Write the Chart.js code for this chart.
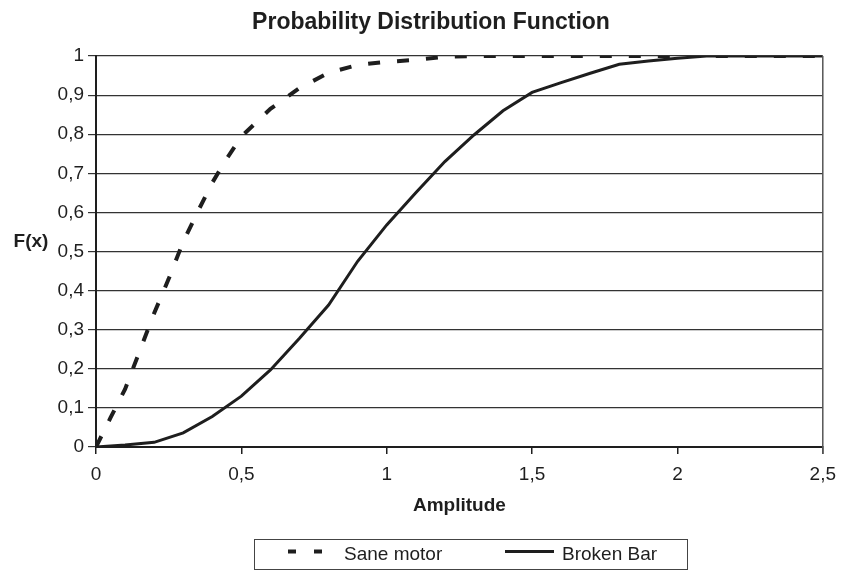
<!DOCTYPE html>
<html lang="en">
<head>
<meta charset="utf-8"/>
<title>Probability Distribution Function</title>
<script src="https://cdn.jsdelivr.net/npm/chart.js"></script>
<style>
  html, body { margin: 0; padding: 0; background: #fff; }
</style>
</head>
<body>
<canvas id="pdfChart" width="845" height="570"></canvas>
<script>
  // cumulative distribution, one pair of arrays per motor
  const saneAmp = [0, 0.05, 0.1, 0.15, 0.2, 0.25, 0.3, 0.35, 0.4, 0.45, 0.5, 0.6, 0.7, 0.8, 0.9, 1.0,
                   1.1, 1.2, 1.3, 1.4, 1.5, 1.6, 1.7, 1.8, 1.9, 2.0, 2.1, 2.2, 2.3, 2.4, 2.5];
  const saneF = [0, 0.075, 0.148, 0.245, 0.342, 0.43, 0.525, 0.602, 0.676, 0.738, 0.794, 0.865, 0.918, 0.957, 0.977, 0.985,
                 0.99, 0.998, 1, 1, 1, 1, 1, 1, 1, 1, 1, 1, 1, 1, 1];

  const brokenAmp = [0, 0.1, 0.2, 0.3, 0.4, 0.5, 0.6, 0.7, 0.8, 0.9, 1.0, 1.1, 1.2, 1.3, 1.4, 1.5,
                     1.6, 1.7, 1.8, 1.9, 2.0, 2.1, 2.2, 2.3, 2.4, 2.5];
  const brokenF = [0, 0.005, 0.012, 0.036, 0.078, 0.13, 0.197, 0.278, 0.363, 0.475, 0.568, 0.65, 0.73, 0.798, 0.86, 0.907,
                   0.932, 0.956, 0.979, 0.987, 0.994, 1, 1, 1, 1, 1];

  const xTicks = [0, 0.5, 1, 1.5, 2, 2.5];
  const yTicks = [0, 0.1, 0.2, 0.3, 0.4, 0.5, 0.6, 0.7, 0.8, 0.9, 1];

  const chartTitle = 'Probability Distribution Function';
  const xName = 'Amplitude';
  const yName = 'F(x)';

  const FONT = '"Liberation Sans", Arial, sans-serif';
  const INK = '#1e1e1e';

  const comma = v => String(+v.toFixed(2)).replace('.', ',');
  const pairs = (xs, ys) => xs.map((x, i) => ({ x: x, y: ys[i] }));

  // title, y axis name, right frame and the boxed legend
  const decor = {
    id: 'decor',
    afterDraw(chart) {
      const ctx = chart.ctx;
      const a = chart.chartArea;
      ctx.save();

      ctx.strokeStyle = '#555';
      ctx.lineWidth = 1.5;
      ctx.beginPath();
      ctx.moveTo(a.right, a.top);
      ctx.lineTo(a.right, a.bottom + 7);
      ctx.stroke();

      ctx.fillStyle = INK;
      ctx.textAlign = 'center';
      ctx.textBaseline = 'alphabetic';
      ctx.font = 'bold 23px ' + FONT;
      ctx.fillText(chartTitle, 431, 29);

      ctx.font = 'bold 19px ' + FONT;
      ctx.fillText(yName, 31, 247);

      // legend frame
      ctx.strokeStyle = '#444';
      ctx.lineWidth = 1;
      ctx.strokeRect(254.5, 539.5, 433, 30);

      const items = [
        { ds: chart.data.datasets[0], x0: 288, x1: 339, tx: 344, dash: [8, 18] },
        { ds: chart.data.datasets[1], x0: 505, x1: 554, tx: 562, dash: [] }
      ];
      ctx.font = '19px ' + FONT;
      ctx.textAlign = 'left';
      ctx.textBaseline = 'middle';
      items.forEach(it => {
        ctx.strokeStyle = it.ds.borderColor;
        ctx.lineWidth = it.ds.borderWidth;
        ctx.setLineDash(it.dash);
        ctx.beginPath();
        ctx.moveTo(it.x0, 551.5);
        ctx.lineTo(it.x1, 551.5);
        ctx.stroke();
        ctx.setLineDash([]);
        ctx.fillText(it.ds.label, it.tx, 555);
      });
      ctx.restore();
    }
  };

  new Chart(document.getElementById('pdfChart'), {
    type: 'line',
    data: {
      datasets: [
        {
          label: 'Sane motor',
          data: pairs(saneAmp, saneF),
          borderColor: INK,
          borderWidth: 4,
          borderDash: [12, 17],
          pointRadius: 0,
          tension: 0,
          fill: false
        },
        {
          label: 'Broken Bar',
          data: pairs(brokenAmp, brokenF),
          borderColor: INK,
          borderWidth: 3,
          pointRadius: 0,
          tension: 0,
          fill: false
        }
      ]
    },
    options: {
      responsive: false,
      animation: false,
      layout: { padding: { top: 56, left: 17, right: 14, bottom: 53 } },
      plugins: {
        legend: { display: false },
        title: { display: false },
        tooltip: { enabled: false }
      },
      scales: {
        x: {
          type: 'linear',
          min: 0,
          max: 2.5,
          afterBuildTicks: s => { s.ticks = xTicks.map(v => ({ value: v })); },
          afterFit: s => { s.height = 70; },
          grid: { drawOnChartArea: false, drawTicks: true, tickLength: 7, color: INK, lineWidth: 1.5 },
          border: { color: INK, width: 2 },
          ticks: {
            padding: 9,
            color: INK,
            font: { family: FONT, size: 19 },
            maxRotation: 0,
            callback: v => comma(v)
          },
          title: {
            display: true,
            text: xName,
            color: INK,
            font: { family: FONT, size: 19, weight: 'bold' },
            padding: { top: 0, bottom: 0 }
          }
        },
        y: {
          min: 0,
          max: 1,
          afterBuildTicks: s => { s.ticks = yTicks.map(v => ({ value: v })); },
          afterFit: s => { s.width = 79; },
          grid: { color: '#333', lineWidth: 1.2, tickLength: 8 },
          border: { color: INK, width: 2 },
          ticks: {
            padding: 4,
            color: INK,
            font: { family: FONT, size: 19 },
            callback: v => comma(v)
          }
        }
      }
    },
    plugins: [decor]
  });
</script>
</body>
</html>
